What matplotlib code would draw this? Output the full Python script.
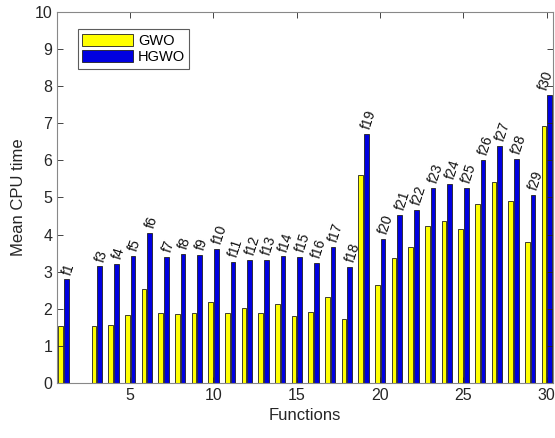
import numpy as np
from matplotlib import pyplot as plt

plt.rcParams['font.family'] = ['Liberation Sans', 'DejaVu Sans']

# mean CPU time per benchmark function (f2 not reported)
funcs = [1, 3, 4, 5, 6, 7, 8, 9, 10, 11, 12, 13, 14, 15,
         16, 17, 18, 19, 20, 21, 22, 23, 24, 25, 26, 27, 28, 29, 30]
gwo = [1.53, 1.53, 1.57, 1.84, 2.52, 1.89, 1.87, 1.89, 2.17, 1.89, 2.02, 1.89, 2.12, 1.81,
       1.90, 2.31, 1.72, 5.61, 2.65, 3.38, 3.66, 4.23, 4.37, 4.15, 4.82, 5.43, 4.91, 3.79, 6.93]
hgwo = [2.79, 3.14, 3.22, 3.43, 4.04, 3.40, 3.49, 3.45, 3.60, 3.27, 3.32, 3.31, 3.41, 3.39,
        3.23, 3.67, 3.13, 6.70, 3.88, 4.53, 4.66, 5.26, 5.37, 5.25, 6.00, 6.39, 6.04, 5.06, 7.76]
labels = ['f%d' % i for i in funcs]

x = np.array(funcs)
w = 0.27

fig = plt.figure(figsize=(5.55, 4.38), dpi=100)
ax = fig.add_axes([0.103, 0.1256, 0.893, 0.847])

ax.bar(x - 0.165, gwo, w, color='#ffff00', edgecolor='#202020', linewidth=0.6, label='GWO')
ax.bar(x + 0.175, hgwo, w, color='#0000e0', edgecolor='#202020', linewidth=0.6, label='HGWO')

# rotated function names above the HGWO bars; the last one is pulled in from the edge
for xi, v, s in zip(x, hgwo, labels):
    dx = -0.25 if xi == 30 else 0.18
    ax.text(xi + dx, v + 0.14, s, rotation=72, rotation_mode='anchor',
            ha='left', va='center', fontsize=10, color='#111111')

ax.set_xlim(0.62, 30.36)
ax.set_ylim(0, 10)
ax.set_xticks([5, 10, 15, 20, 25, 30])
ax.set_yticks(range(0, 11))
ax.tick_params(direction='in', top=True, right=True, labelsize=11.5,
               colors='#262626', length=4, width=0.6)
for sp in ax.spines.values():
    sp.set_color('#888888')
    sp.set_linewidth(0.8)

ax.set_xlabel('Functions', fontsize=12, color='#262626', labelpad=4)
ax.set_ylabel('Mean CPU time', fontsize=12, color='#262626', labelpad=6)

leg = ax.legend(loc='upper left', bbox_to_anchor=(0.042, 0.953), fontsize=10.5,
                fancybox=False, edgecolor='#333333', handlelength=3.5, handleheight=0.9,
                labelspacing=0.15, borderpad=0.3, handletextpad=0.3, borderaxespad=0)
leg.get_frame().set_linewidth(0.8)

fig.savefig('out.png', dpi=100)
